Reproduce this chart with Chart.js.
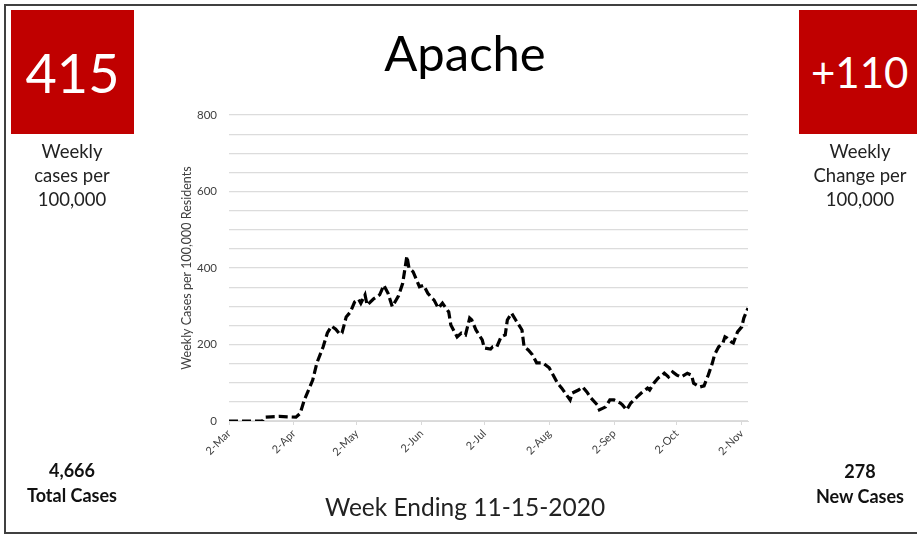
<!DOCTYPE html>
<html>
<head>
<meta charset="utf-8">
<script src="https://cdn.jsdelivr.net/npm/chart.js@4"></script>
<style>
  body { margin: 0; background: #fff; font-family: Lato, "Open Sans", sans-serif; }
  #wrap { position: relative; width: 917px; height: 535px; overflow: hidden; }
  #frame { position: absolute; left: 4px; top: 4px; width: 940px; height: 526px; border: 2px solid #404040; }
  canvas { position: absolute; left: 0; top: 0; }
  .box { position: absolute; top: 10px; width: 123px; height: 124px; background: #c00000; color: #fff;
         display: flex; align-items: center; justify-content: center; }
  .txt { position: absolute; text-align: center; color: #222; }
</style>
</head>
<body>
<div id="wrap">
  <div id="frame"></div>
  <canvas id="myChart" width="917" height="535"></canvas>

  <div class="box" style="left:11px;font-size:54px;">415</div>
  <div class="box" style="left:799px;font-size:42px;justify-content:flex-start;padding-left:12px;box-sizing:border-box;">+110</div>

  <div class="txt" style="left:0;width:144px;top:139px;font-size:18.5px;line-height:24px;">Weekly<br>cases per<br>100,000</div>
  <div class="txt" style="left:790px;width:140px;top:139px;font-size:18.5px;line-height:24px;">Weekly<br>Change per<br>100,000</div>

  <div class="txt" style="left:265px;width:400px;top:25px;font-size:49px;line-height:54px;color:#000;">Apache</div>

  <div class="txt" style="left:0;width:144px;top:458px;font-size:18px;line-height:25px;font-weight:bold;color:#111;">4,666<br>Total Cases</div>
  <div class="txt" style="left:790px;width:140px;top:459px;font-size:18px;line-height:25px;font-weight:bold;color:#111;">278<br>New Cases</div>

  <div class="txt" style="left:265px;width:400px;top:492px;font-size:24.5px;line-height:30px;">Week Ending 11-15-2020</div>
</div>

<script>
// days counted from 2-Mar, weekly cases per 100,000
const dayOffsets = [0, 3, 8, 12, 16, 17, 20, 24, 28, 32, 34, 36, 40, 42, 45, 47, 49, 51, 53, 54,
  56, 58, 60, 62, 63, 65, 66, 69, 72, 74, 76, 78, 81, 83, 85, 86, 88, 91, 93, 95,
  97, 98, 100, 102, 105, 106, 109, 111, 113, 115, 116, 118, 121, 122, 125, 126, 128, 130, 132, 133,
  135, 137, 140, 141, 143, 145, 147, 150, 153, 157, 159, 163, 164, 167, 169, 171, 173, 176, 177, 180,
  182, 184, 187, 188, 190, 192, 195, 197, 200, 201, 203, 205, 207, 208, 210, 212, 214, 216, 219, 221,
  222, 225, 227, 229, 231, 232, 234, 236, 237, 238, 240, 241, 243, 245, 246, 248];

const weeklyCases = [0, 0, 0, 0, 0, 10, 11, 12, 11, 10, 20, 55, 107, 152, 194, 230, 248, 240, 227, 230,
  272, 285, 311, 318, 308, 330, 303, 319, 330, 355, 334, 299, 327, 360, 431, 400, 390, 351, 355, 334,
  321, 316, 295, 308, 285, 251, 220, 230, 225, 269, 264, 238, 212, 191, 188, 194, 194, 220, 225, 264,
  282, 264, 238, 194, 186, 173, 152, 152, 139, 99, 86, 55, 73, 81, 89, 76, 60, 42, 29, 37,
  55, 55, 47, 42, 29, 47, 63, 73, 86, 81, 99, 112, 120, 125, 115, 128, 120, 115, 125, 120,
  99, 89, 92, 120, 152, 173, 194, 204, 220, 217, 207, 204, 233, 246, 269, 295];

const monthTickDays = [0, 31, 61, 92, 122, 153, 184, 214, 245];
const monthTickLabels = ["2-Mar", "2-Apr", "2-May", "2-Jun", "2-Jul", "2-Aug", "2-Sep", "2-Oct", "2-Nov"];

const yLabelStep = 200;

const points = dayOffsets.map((d, i) => ({ x: d, y: weeklyCases[i] }));

const chart = document.getElementById("myChart").getContext("2d");
const myChart = new Chart(chart, {
  type: "line",
  data: {
    datasets: [{
      label: "Weekly Cases",
      data: points,
      borderColor: "#000",
      backgroundColor: "transparent",
      borderWidth: 3.2,
      borderDash: [9, 4],
      pointRadius: 0,
      tension: 0
    }]
  },
  options: {
    responsive: false,
    animation: false,
    layout: { padding: { left: 179, right: 169, top: 115, bottom: 54 } },
    plugins: { legend: { display: false }, tooltip: { enabled: false } },
    scales: {
      x: {
        type: "linear",
        min: 0,
        max: 248,
        afterBuildTicks: (scale) => { scale.ticks = monthTickDays.map(v => ({ value: v })); },
        afterFit: (scale) => { scale.height = 60; },
        ticks: {
          autoSkip: false,
          maxRotation: 45,
          minRotation: 45,
          color: "#404040",
          font: { family: "Lato", size: 11 },
          padding: 2,
          callback: (value, index) => monthTickLabels[index]
        },
        grid: { drawOnChartArea: false, drawTicks: true, tickLength: 4, color: "#d9d9d9" },
        border: { color: "#d9d9d9" }
      },
      y: {
        min: 0,
        max: 800,
        afterFit: (scale) => { scale.width = 50; },
        ticks: {
          stepSize: 50,
          color: "#404040",
          font: { family: "Lato", size: 11.5 },
          padding: 12,
          callback: (v) => (v % yLabelStep === 0 ? v : "")
        },
        grid: { color: "#dcdcdc", lineWidth: 1.2, drawTicks: false },
        border: { display: false },
        title: {
          display: true,
          text: "Weekly Cases per 100,000 Residents",
          color: "#404040",
          font: { family: "Lato", size: 12.5 },
          padding: { top: 0, bottom: 0 }
        }
      }
    }
  }
});
</script>
</body>
</html>
